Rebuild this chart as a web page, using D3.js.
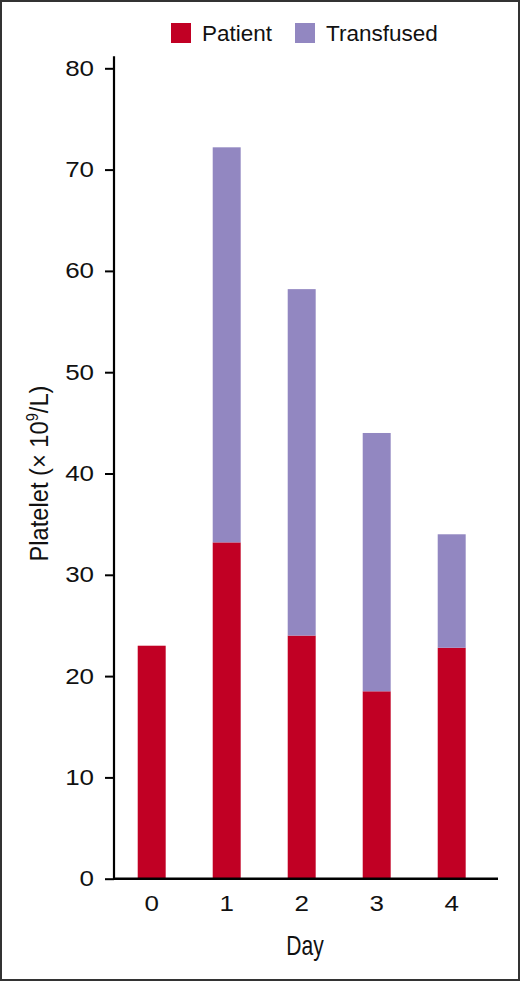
<!DOCTYPE html>
<html>
<head>
<meta charset="utf-8">
<script src="https://cdn.jsdelivr.net/npm/d3@7"></script>
<style>
  body { margin: 0; background: #fff; }
  svg { display: block; }
</style>
</head>
<body>
<svg id="chart"></svg>
<script>
// Data
const days = ["0", "1", "2", "3", "4"];
const patient = [23, 33.2, 24, 18.5, 22.8];
const transfused = [0, 39, 34.2, 25.5, 11.2];
const yTicks = [0, 10, 20, 30, 40, 50, 60, 70, 80];
const seriesNames = ["Patient", "Transfused"];
const seriesColors = ["#c10024", "#9287c1"];

const width = 520;
const height = 981;
const font = "'Liberation Sans', Arial, sans-serif";

const svg = d3.select("#chart")
  .attr("width", width)
  .attr("height", height);

// frame round the whole picture
svg.append("rect")
  .attr("x", 1).attr("y", 1)
  .attr("width", width - 2).attr("height", height - 2)
  .attr("fill", "#fff")
  .attr("stroke", "#333")
  .attr("stroke-width", 2);

const x = d3.scaleBand()
  .domain(days)
  .range([114.2, 489.2])
  .paddingInner(0.627)
  .paddingOuter(0.3135);

const y = d3.scaleLinear()
  .domain([0, 80])
  .range([878.7, 68.3]);

// stacked bars
const rows = days.map((d, i) => ({ day: d, Patient: patient[i], Transfused: transfused[i] }));
const stacked = d3.stack().keys(seriesNames)(rows);

svg.append("g")
  .selectAll("g")
  .data(stacked)
  .join("g")
    .attr("fill", (d, i) => seriesColors[i])
  .selectAll("rect")
  .data(d => d.filter(s => s[1] > s[0]))
  .join("rect")
    .attr("x", d => x(d.data.day))
    .attr("width", x.bandwidth())
    .attr("y", d => y(d[1]))
    .attr("height", d => y(d[0]) - y(d[1]));

// y axis (digits in the figure are a wide face, so stretch them a bit)
const yAxis = svg.append("g")
  .attr("transform", "translate(114,0)")
  .call(d3.axisLeft(y).tickValues(yTicks).tickSize(9));
yAxis.select(".domain").attr("stroke-width", 2.2).attr("d", `M0,${y(80) - 12}V${y(0)}`);
yAxis.selectAll(".tick line").attr("stroke-width", 2);
yAxis.selectAll("text")
  .attr("x", 0)
  .attr("transform", "translate(-20,0) scale(1.18,1)")
  .attr("font-family", font)
  .attr("font-size", 22)
  .attr("fill", "#111");

// x axis
const xAxis = svg.append("g")
  .attr("transform", `translate(0,${y(0)})`)
  .call(d3.axisBottom(x).tickSize(0).tickPadding(17));
xAxis.select(".domain").attr("stroke-width", 2.4).attr("d", "M113,0H498");
xAxis.selectAll("text")
  .attr("transform", "scale(1.18,1)")
  .attr("font-family", font)
  .attr("font-size", 22)
  .attr("fill", "#111");

// axis titles, squeezed to look like a condensed face
const xTitle = svg.append("text")
  .attr("text-anchor", "middle")
  .attr("font-family", font)
  .attr("font-size", 27)
  .attr("fill", "#111")
  .text("Day");
xTitle.attr("transform", "translate(305,955) scale(0.78,1)");

const yTitle = svg.append("text")
  .attr("text-anchor", "middle")
  .attr("font-family", font)
  .attr("font-size", 26)
  .attr("fill", "#111");
yTitle.append("tspan").text("Platelet (\u00d7 10");
yTitle.append("tspan").attr("font-size", 16).attr("dy", -10).text("9");
yTitle.append("tspan").attr("dy", 10).text("/L)");
const squeeze = 176 / yTitle.node().getComputedTextLength();
yTitle.attr("transform", `translate(48,${(y(0) + y(80)) / 2}) rotate(-90) scale(${squeeze},1)`);

// legend
const legendX = [171, 295];
const legend = svg.append("g")
  .selectAll("g")
  .data(seriesNames)
  .join("g")
    .attr("transform", (d, i) => `translate(${legendX[i]},23)`);
legend.append("rect")
  .attr("width", 20).attr("height", 20)
  .attr("fill", (d, i) => seriesColors[i]);
legend.append("text")
  .attr("x", 31)
  .attr("y", 18)
  .attr("font-family", font)
  .attr("font-size", 22.5)
  .attr("fill", "#111")
  .text(d => d);
</script>
</body>
</html>
